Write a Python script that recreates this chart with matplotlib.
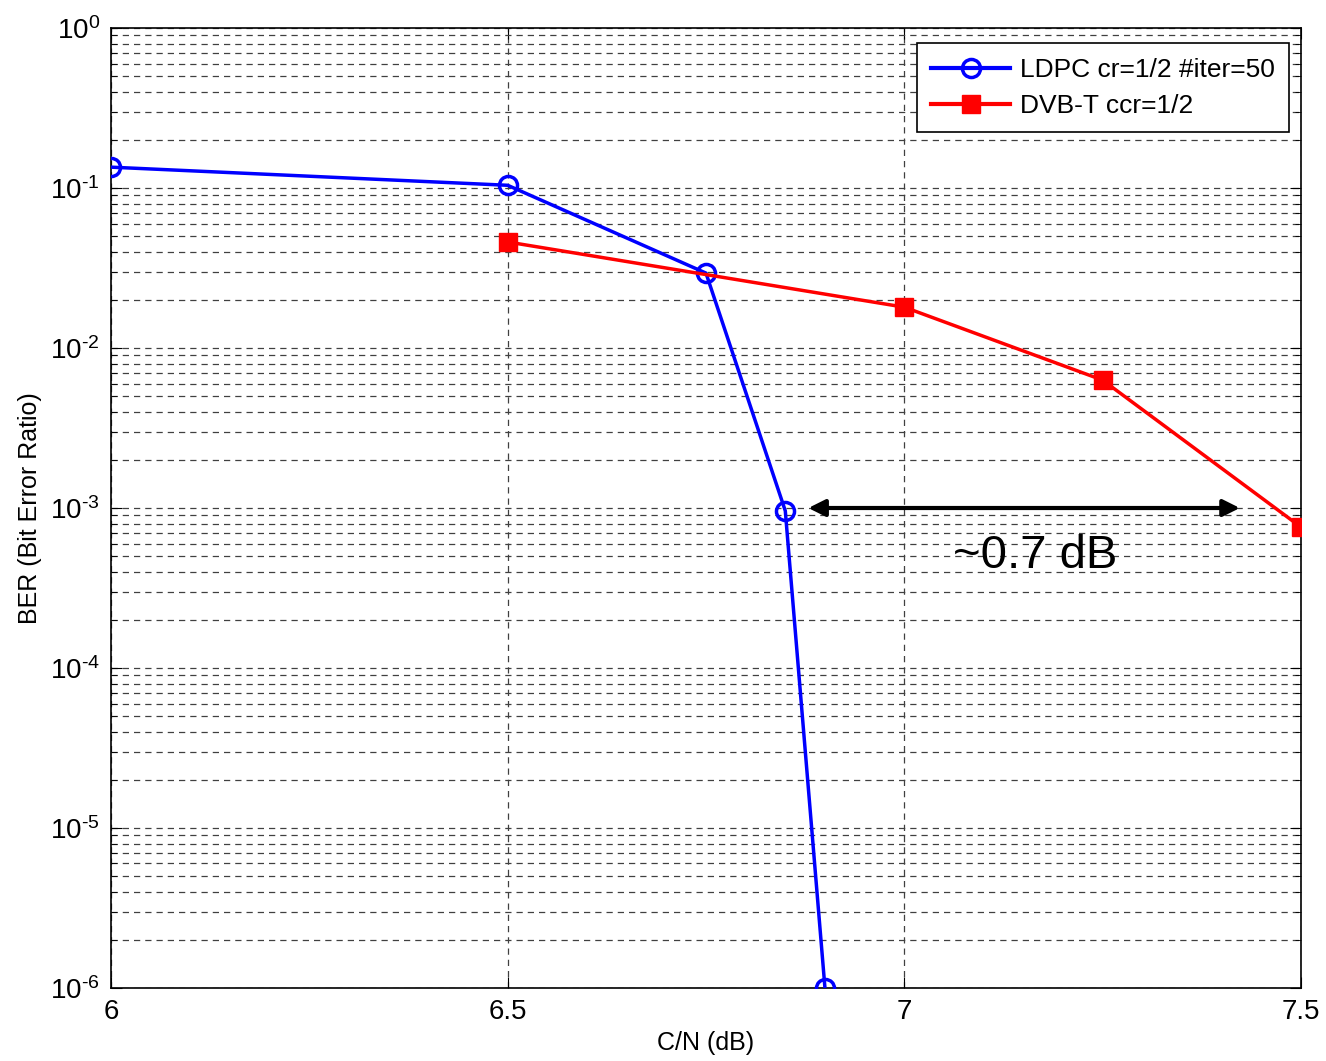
import matplotlib
matplotlib.use("Agg")
import matplotlib.pyplot as plt
from matplotlib.ticker import LogLocator, FixedLocator, NullFormatter

plt.rcParams["font.family"] = ["Liberation Sans", "DejaVu Sans"]
plt.rcParams["axes.unicode_minus"] = False
plt.rcParams["mathtext.fontset"] = "custom"
plt.rcParams["mathtext.rm"] = "Liberation Sans"
plt.rcParams["mathtext.it"] = "Liberation Sans"

# LDPC
ldpc_cn = [6.0, 6.5, 6.75, 6.85, 6.9]
ldpc_ber = [0.135, 0.104, 0.0294, 9.6e-4, 1e-6]

# DVB-T
dvbt_cn = [6.5, 7.0, 7.25, 7.5]
dvbt_ber = [0.046, 0.018, 6.3e-3, 7.6e-4]

x_ticks = [6, 6.5, 7, 7.5]
x_labels = ["6", "6.5", "7", "7.5"]
y_exps = [-6, -5, -4, -3, -2, -1, 0]
y_ticks = [10.0 ** e for e in y_exps]
y_labels = ["$\\mathregular{10^{\\text{%s}}}$" % ("-%d" % -e if e < 0 else "0")
            for e in y_exps]

fig = plt.figure(figsize=(13.26, 10.61), dpi=100)
ax = fig.add_axes([0.0837, 0.0688, 0.8974, 0.9048])

ax.plot(ldpc_cn, ldpc_ber, color="#0000ff", lw=2.5, marker="o", ms=13,
        mfc="none", mew=2.5, label="LDPC cr=1/2 #iter=50", zorder=3)
ax.plot(dvbt_cn, dvbt_ber, color="#ff0000", lw=2.5, marker="s", ms=13,
        mfc="#ff0000", mec="#ff0000", label="DVB-T ccr=1/2", zorder=3)

ax.set_yscale("log")
ax.set_xlim(6, 7.5)
ax.set_ylim(1e-6, 1)
ax.xaxis.set_major_locator(FixedLocator(x_ticks))
ax.set_xticklabels(x_labels)
ax.yaxis.set_major_locator(FixedLocator(y_ticks))
ax.set_yticklabels(y_labels)
ax.yaxis.set_minor_locator(LogLocator(base=10, subs=range(2, 10), numticks=20))
ax.yaxis.set_minor_formatter(NullFormatter())

grid_kw = dict(color="#404040", linestyle=(0, (5, 4)), linewidth=0.9)
ax.grid(True, which="major", axis="both", **grid_kw)
ax.grid(True, which="minor", axis="y", **grid_kw)

ax.tick_params(which="both", direction="in", top=True, right=True,
               labelsize=20, pad=8)
ax.tick_params(which="major", length=8)
ax.tick_params(which="minor", length=4)
for s in ax.spines.values():
    s.set_linewidth(1.2)

ax.set_xlabel("C/N (dB)", fontsize=18, labelpad=4)
ax.set_ylabel("BER (Bit Error Ratio)", fontsize=18, labelpad=6)

# gap annotation
ax.annotate("", xy=(6.879, 1e-3), xytext=(7.423, 1e-3),
            arrowprops=dict(arrowstyle="<|-|>", color="black", lw=3,
                            mutation_scale=25, shrinkA=0, shrinkB=0))
ax.text(7.165, 5.0e-4, "~0.7 dB", fontsize=34, ha="center", va="center")

leg = ax.legend(loc="upper right", fontsize=19, fancybox=False,
                framealpha=1, edgecolor="black", handlelength=3.0,
                borderpad=0.55, labelspacing=0.45, handletextpad=0.35,
                borderaxespad=0, bbox_to_anchor=(0.99, 0.984))
leg.get_frame().set_linewidth(1.2)
for h in leg.get_lines():
    h.set_linewidth(3)

fig.savefig("out.png", dpi=100)
